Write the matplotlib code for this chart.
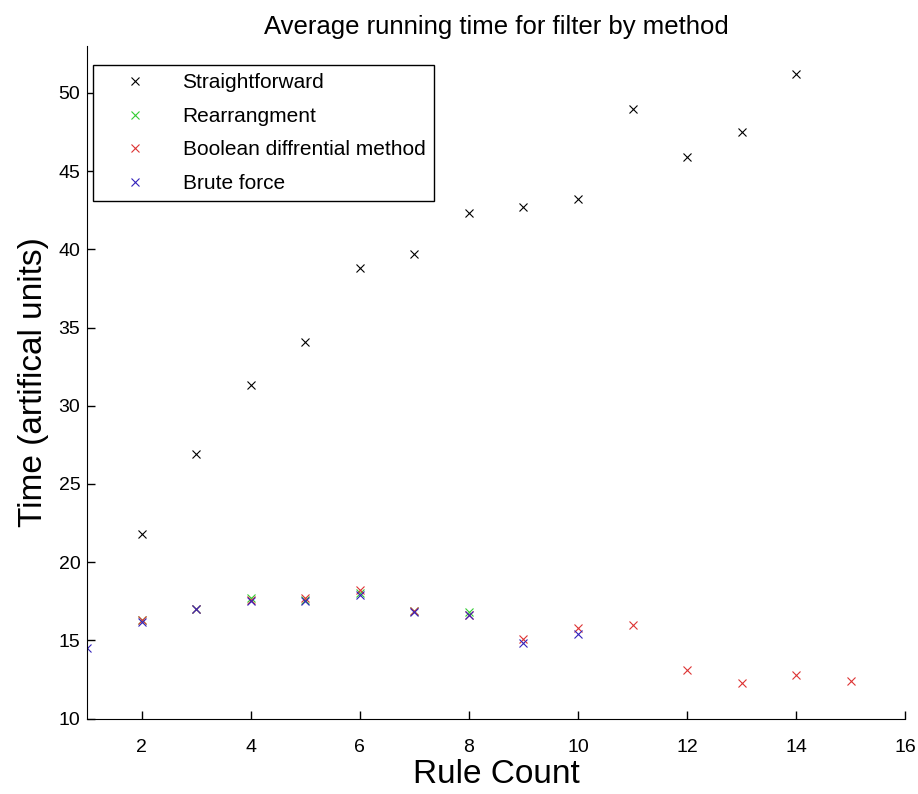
import numpy as np
import matplotlib
matplotlib.use("Agg")
import matplotlib.pyplot as plt

plt.rcParams["font.family"] = ["Liberation Sans", "DejaVu Sans"]

straight_x = [2, 3, 4, 5, 6, 7, 8, 9, 10, 11, 12, 13, 14]
straight_y = [21.8, 26.9, 31.3, 34.1, 38.8, 39.7, 42.3, 42.7, 43.2, 49.0, 45.9, 47.5, 51.2]

rearr_x = [2, 3, 4, 5, 6, 7, 8]
rearr_y = [16.3, 17.0, 17.7, 17.6, 18.0, 16.9, 16.8]

bool_x = [2, 3, 4, 5, 6, 7, 8, 9, 10, 11, 12, 13, 14, 15]
bool_y = [16.3, 17.0, 17.6, 17.7, 18.2, 16.9, 16.6, 15.1, 15.8, 16.0, 13.1, 12.3, 12.8, 12.4]

brute_x = [1, 2, 3, 4, 5, 6, 7, 8, 9, 10]
brute_y = [14.5, 16.2, 17.0, 17.5, 17.5, 17.9, 16.8, 16.6, 14.8, 15.4]

fig = plt.figure(figsize=(9.18, 7.94), dpi=100)
ax = fig.add_axes([0.095, 0.095, 0.891, 0.847])

ax.plot(straight_x, straight_y, "x", color="black", ms=6, mew=0.8, label="Straightforward")
ax.plot(rearr_x, rearr_y, "x", color="#33cc33", ms=6, mew=0.8, label="Rearrangment")
ax.plot(bool_x, bool_y, "x", color="#dd3333", ms=6, mew=0.8, label="Boolean diffrential method")
ax.plot(brute_x, brute_y, "x", color="#3322bb", ms=6, mew=0.8, label="Brute force")

ax.set_xlim(1, 16)
ax.set_ylim(10, 53)
ax.set_xticks([2, 4, 6, 8, 10, 12, 14, 16])
ax.set_yticks([10, 15, 20, 25, 30, 35, 40, 45, 50])
ax.tick_params(direction="in", length=6, labelsize=14, width=1)
ax.tick_params(axis="x", pad=15)
ax.tick_params(axis="y", pad=5)
ax.spines["top"].set_visible(False)
ax.spines["right"].set_visible(False)

ax.set_title("Average running time for filter by method", fontsize=18.5, pad=9)
ax.set_xlabel("Rule Count", fontsize=24, labelpad=2)
ax.set_ylabel("Time (artifical units)", fontsize=24, labelpad=7)

leg = ax.legend(loc="upper left", numpoints=1, fontsize=15, fancybox=False,
                edgecolor="black", framealpha=1, borderpad=0.4, handlelength=3.2,
                handletextpad=0.7, labelspacing=0.7,
                bbox_to_anchor=(0.007, 0.972), borderaxespad=0)
leg.get_frame().set_linewidth(1)

fig.savefig("out.png", dpi=100)
